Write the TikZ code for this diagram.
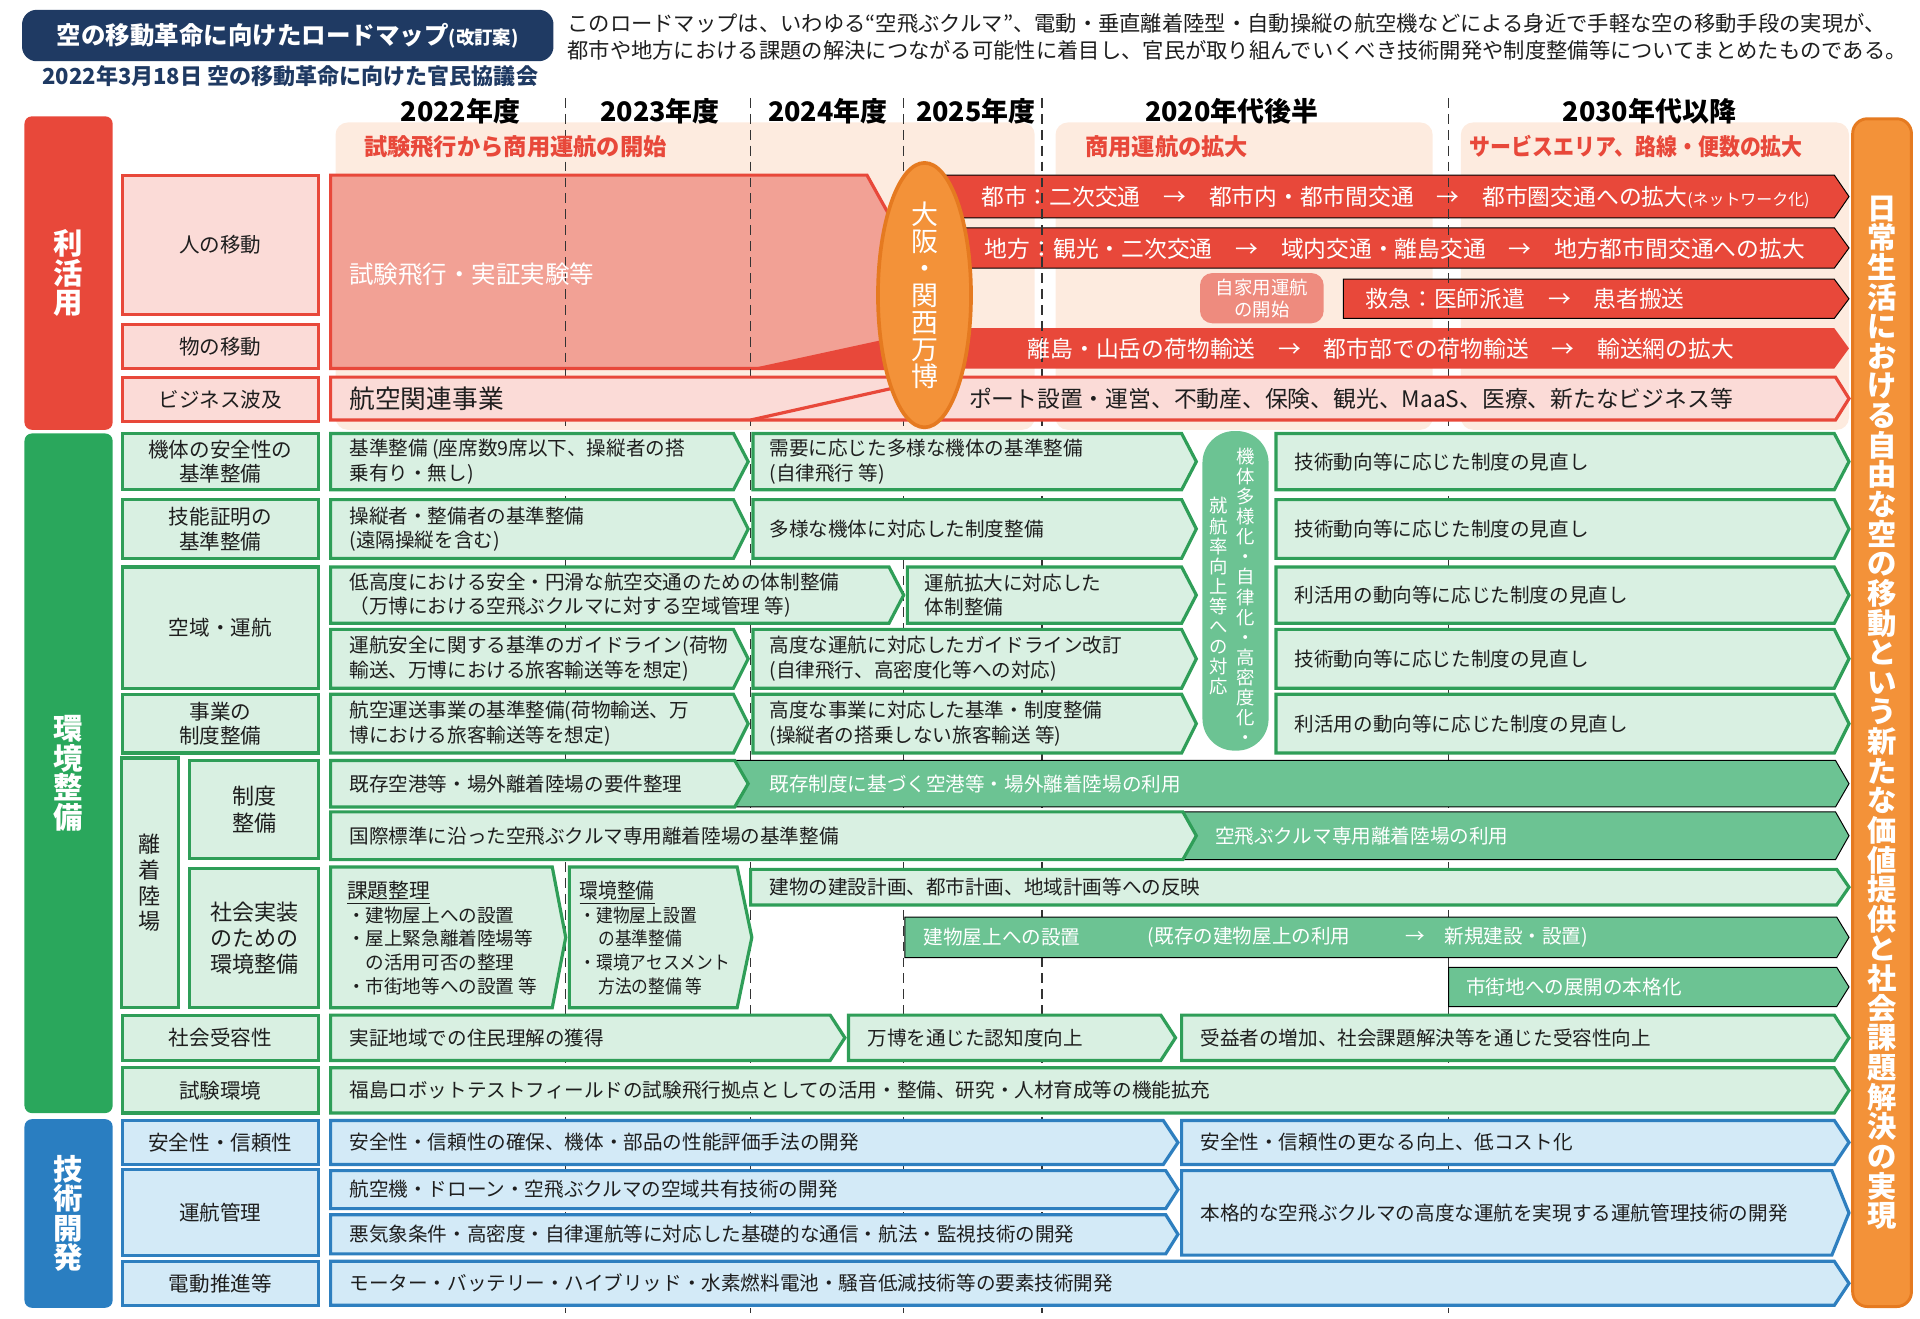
\documentclass[tikz,border=0pt]{standalone}
\usepackage{fontspec}
\setmainfont{Noto Sans CJK JP}
\newfontfamily\condfont[FakeStretch=0.9]{Noto Sans CJK JP}
\usetikzlibrary{shapes.geometric}
\definecolor{rred}{HTML}{E8483A}
\definecolor{rpink}{HTML}{FBDBD7}
\definecolor{salmon}{HTML}{F2A195}
\definecolor{peach}{HTML}{FDEBDF}
\definecolor{jika}{HTML}{EE8B7E}
\definecolor{gsec}{HTML}{2AA75C}
\definecolor{gdark}{HTML}{2F9E58}
\definecolor{glight}{HTML}{D9F0E2}
\definecolor{gmidc}{HTML}{6CC393}
\definecolor{bsec}{HTML}{2A7EC1}
\definecolor{bdark}{HTML}{2E7FBF}
\definecolor{blight}{HTML}{D3EAF7}
\definecolor{orng}{HTML}{F39239}
\definecolor{odark}{HTML}{E57A20}
\definecolor{navy}{HTML}{1F3A63}
\definecolor{ink}{HTML}{1E1E1E}
\definecolor{dashc}{HTML}{333333}
\newcommand{\chevron}[6][]{%
  \draw[#1] (#2,#3) -- ({#4-#6},#3) -- (#4,{(#3+#5)/2}) -- ({#4-#6},#5) -- (#2,#5) -- cycle;}

\begin{document}
\begin{tikzpicture}[x=0.5pt, y=-0.5pt,
    txt/.style={inner sep=0pt, anchor=west, align=left, text=ink, font=\fontsize{8}{10}\selectfont},
    wtxt/.style={txt, text=white},
    rtxt/.style={txt, text=white, font=\fontsize{9.3}{11}\selectfont},
    year/.style={inner sep=0pt, text=black, font=\fontsize{11}{12}\selectfont\bfseries},
    phase/.style={inner sep=0pt, anchor=west, text=rred, font=\fontsize{9.5}{11}\selectfont\bfseries},
    catlabel/.style={draw, line width=1.3pt, inner sep=0pt, align=center, minimum width=80pt, text=ink, font=\fontsize{8.4}{10}\selectfont},
    catred/.style={catlabel, draw=rred, fill=rpink},
    catgreen/.style={catlabel, draw=gdark, fill=glight},
    catblue/.style={catlabel, draw=bdark, fill=blight},
    sectionbar/.style={inner sep=0pt, rounded corners=3pt, minimum width=36pt, align=center, text=white, font=\fontsize{12}{12}\selectfont\bfseries},
    vtxt/.style={inner sep=0pt, align=center, text=white, font=\fontsize{7.5}{8.2}\selectfont},
    gbox/.style={draw=gdark, fill=glight, line width=1.3pt},
    gbar/.style={fill=gmidc},
    bbox/.style={draw=bdark, fill=blight, line width=1.3pt},
    rbar/.style={fill=rred},
    yeardash/.style={draw=dashc, line width=0.6pt, dash pattern=on 4pt off 2.5pt},
    phasebg/.style={fill=peach, rounded corners=5pt}
  ]
            \useasboundingbox (0,0) rectangle (1568,1077);

            \node[fill=navy, rounded corners=6pt, minimum width=217pt, minimum height=21pt, inner sep=0pt, text=white, font=\fontsize{10}{12}\selectfont\bfseries] (title) at (235,29) {空の移動革命に向けたロードマップ{\fontsize{7.5}{9}\selectfont(改訂案)}};
            \node[inner sep=0pt, text=navy, font=\fontsize{9}{11}\selectfont\bfseries] (date) at (237,62) {2022年3月18日 空の移動革命に向けた官民協議会};
            \node[txt, font=\fontsize{8.7}{10.8}\selectfont] (intro) at (463,30) {このロードマップは、いわゆる“空飛ぶクルマ”、電動・垂直離着陸型・自動操縦の航空機などによる身近で手軽な空の移動手段の実現が、\\都市や地方における課題の解決につながる可能性に着目し、官民が取り組んでいくべき技術開発や制度整備等についてまとめたものである。};

            \fill[phasebg] (274,100) rectangle (845,351);
            \fill[phasebg] (862,100) rectangle (1170,351);
            \fill[phasebg] (1193,100) rectangle (1510,351);

            \draw[fill=salmon, draw=rred, line width=1.3pt] (270,143) -- (708,143) -- (752,222) -- (752,301) -- (270,301) -- cycle;
            \fill[rbar] (613,301) -- (765,268) -- (1498,268) -- (1510,284.5) -- (1498,301) -- cycle;
            \chevron[rbar]{750}{143}{1510}{178}{12}
            \chevron[rbar]{750}{186}{1510}{219}{12}
            \chevron[rbar]{1097}{228}{1510}{260}{12}
            \node[fill=jika, rounded corners=5pt, minimum width=50.5pt, minimum height=20.5pt, inner sep=0pt, align=center, text=white, font=\fontsize{7.5}{9}\selectfont] (jikayo) at (1030.5,243.5) {自家用運航\\の開始};

            \foreach \x in {462,613,738,851,1183}
                \draw[yeardash] (\x,80) -- (\x,1072);

            \chevron[fill=rpink, draw=rred, line width=1.3pt]{270}{308}{1510}{343}{11}
            \draw[rred, line width=1.3pt] (613,343) -- (765,309);
            \node[ellipse, fill=orng, draw=odark, line width=1.5pt, minimum width=38pt, minimum height=108pt, inner sep=0pt, align=center, text=white, font=\fontsize{11}{11}\selectfont] (expo) at (755,241) {大\\阪\\・\\関\\西\\万\\博};

            \node[year] (y22) at (376,91) {2022年度};
            \node[year] (y23) at (539,91) {2023年度};
            \node[year] (y24) at (676,91) {2024年度};
            \node[year] (y25) at (797,91) {2025年度};
            \node[year] (y2x) at (1006,91) {2020年代後半};
            \node[year] (y30) at (1347,91) {2030年代以降};
            \node[phase] (p1) at (297,120) {試験飛行から商用運航の開始};
            \node[phase] (p2) at (886,120) {商用運航の拡大};
            \node[phase, font=\condfont\fontsize{9.5}{11}\selectfont\bfseries] (p3) at (1200,120) {サービスエリア、路線・便数の拡大};

            \node[sectionbar, fill=rred, minimum height=128pt] (riyo) at (56,223) {利\\活\\用};
            \node[sectionbar, fill=gsec, minimum height=277.5pt] (kankyo) at (56,631.5) {環\\境\\整\\備};
            \node[sectionbar, fill=bsec, minimum height=77pt] (gijutsu) at (56,991) {技\\術\\開\\発};
            \node[fill=orng, draw=odark, line width=1.2pt, rounded corners=6pt, minimum width=24pt, minimum height=485pt, inner sep=0pt, align=center, text=white, font=\fontsize{12}{12.1}\selectfont\bfseries] (goal) at (1537,582) {日\\常\\生\\活\\に\\お\\け\\る\\自\\由\\な\\空\\の\\移\\動\\と\\い\\う\\新\\た\\な\\価\\値\\提\\供\\と\\社\\会\\課\\題\\解\\決\\の\\実\\現};

            \node[catred, minimum height=57pt] (hito) at (180,200) {人の移動};
            \node[catred, minimum height=18pt] (mono) at (180,283) {物の移動};
            \node[catred, minimum height=18pt] (biz) at (180,326) {ビジネス波及};
            \node[catgreen, minimum height=23pt] (kitai) at (180,377) {機体の安全性の\\基準整備};
            \node[catgreen, minimum height=24pt] (ginou) at (180,432) {技能証明の\\基準整備};
            \node[catgreen, minimum height=49.5pt] (kuiki) at (180,512.5) {空域・運航};
            \node[catgreen, minimum height=24pt] (jigyo) at (180,591) {事業の\\制度整備};
            \node[catgreen, minimum width=23.5pt, minimum height=102pt, font=\fontsize{9}{10.5}\selectfont] (richaku) at (122.5,721) {離\\着\\陸\\場};
            \node[catgreen, minimum width=52.5pt, minimum height=40pt, font=\fontsize{9}{11}\selectfont] (seido) at (207.5,661) {制度\\整備};
            \node[catgreen, minimum width=52.5pt, minimum height=57pt, font=\fontsize{9}{10.5}\selectfont] (shakai) at (207.5,766) {社会実装\\のための\\環境整備};
            \node[catgreen, minimum height=18.5pt] (juyo) at (180,847.5) {社会受容性};
            \node[catgreen, minimum height=18.5pt] (shiken) at (180,890.5) {試験環境};
            \node[catblue, minimum height=18pt] (anzen) at (180,933) {安全性・信頼性};
            \node[catblue, minimum height=35pt] (unko) at (180,990) {運航管理};
            \node[catblue, minimum height=18pt] (dendo) at (180,1048) {電動推進等};

            \chevron[gbox]{270}{354}{611}{400}{12}
            \chevron[gbox]{615}{354}{977}{400}{12}
            \chevron[gbox]{1042}{354}{1510}{400}{12}
            \chevron[gbox]{270}{408}{611}{456}{12}
            \chevron[gbox]{615}{408}{977}{456}{12}
            \chevron[gbox]{1042}{408}{1510}{456}{12}
            \chevron[gbox]{270}{463}{738}{509}{12}
            \chevron[gbox]{741}{463}{977}{509}{12}
            \chevron[gbox]{1042}{463}{1510}{509}{12}
            \chevron[gbox]{270}{514}{611}{562}{12}
            \chevron[gbox]{615}{514}{977}{562}{12}
            \chevron[gbox]{1042}{514}{1510}{562}{12}
            \chevron[gbox]{270}{567}{611}{615}{12}
            \chevron[gbox]{615}{567}{977}{615}{12}
            \chevron[gbox]{1042}{567}{1510}{615}{12}
            \node[fill=gmidc, rounded corners=13pt, minimum width=27pt, minimum height=130.5pt, inner sep=0pt] (taio) at (1009,482.5) {};
            \node[vtxt] (taioR) at (1017,487) {機\\体\\多\\様\\化\\・\\自\\律\\化\\・\\高\\密\\度\\化\\・};
            \node[vtxt] (taioL) at (995,487) {就\\航\\率\\向\\上\\等\\へ\\の\\対\\応};

            \chevron[gbar]{600}{621}{1510}{659}{11}
            \chevron[gbox]{270}{621}{611}{659}{11}
            \chevron[gbar]{965}{663}{1510}{702}{11}
            \chevron[gbox]{270}{663}{977}{702}{11}
            \chevron[gbox]{270}{708}{462}{823}{11}
            \chevron[gbox]{465}{708}{614}{823}{12}
            \chevron[gbox]{613}{710}{1510}{739}{10}
            \chevron[gbar]{739}{749}{1510}{782}{10}
            \chevron[gbar]{1183}{790}{1510}{822}{10}
            \chevron[gbox]{270}{829}{690}{866}{12}
            \chevron[gbox]{693}{829}{960}{866}{12}
            \chevron[gbox]{965}{829}{1510}{866}{12}
            \chevron[gbox]{270}{872}{1510}{909}{12}

            \chevron[bbox]{270}{915}{962}{951}{12}
            \chevron[bbox]{965}{915}{1510}{951}{12}
            \chevron[bbox]{270}{956}{962}{987}{10}
            \chevron[bbox]{270}{992}{962}{1024}{10}
            \chevron[bbox]{965}{956}{1510}{1025}{14}
            \chevron[bbox]{270}{1030}{1510}{1066}{12}

            \node[txt, text=white, font=\fontsize{10}{12}\selectfont] (trial) at (285,224) {試験飛行・実証実験等};
            \node[rtxt] (toshi) at (801,161) {都市：二次交通　→　都市内・都市間交通　→　都市圏交通への拡大{\fontsize{6.5}{8}\selectfont(ネットワーク化)}};
            \node[rtxt] (chiho) at (804,203) {地方：観光・二次交通　→　域内交通・離島交通　→　地方都市間交通への拡大};
            \node[rtxt] (kyukyu) at (1115,244) {救急：医師派遣　→　患者搬送};
            \node[rtxt] (butsu) at (839,285) {離島・山岳の荷物輸送　→　都市部での荷物輸送　→　輸送網の拡大};
            \node[txt, font=\fontsize{10.5}{12}\selectfont] (koku) at (285,326) {航空関連事業};
            \node[txt, font=\fontsize{9.3}{11}\selectfont] (port) at (791,326) {ポート設置・運営、不動産、保険、観光、MaaS、医療、新たなビジネス等};

            \node[txt] (a1) at (285,377) {基準整備 (座席数9席以下、操縦者の搭\\乗有り・無し)};
            \node[txt] (a2) at (628,377) {需要に応じた多様な機体の基準整備\\(自律飛行 等)};
            \node[txt] (a3) at (1057,377) {技術動向等に応じた制度の見直し};
            \node[txt] (b1) at (285,432) {操縦者・整備者の基準整備\\(遠隔操縦を含む)};
            \node[txt] (b2) at (628,432) {多様な機体に対応した制度整備};
            \node[txt] (b3) at (1057,432) {技術動向等に応じた制度の見直し};
            \node[txt] (c1) at (285,486) {低高度における安全・円滑な航空交通のための体制整備\\（万博における空飛ぶクルマに対する空域管理 等)};
            \node[txt] (c2) at (755,486) {運航拡大に対応した\\体制整備};
            \node[txt] (c3) at (1057,486) {利活用の動向等に応じた制度の見直し};
            \node[txt] (d1) at (285,538) {運航安全に関する基準のガイドライン(荷物\\輸送、万博における旅客輸送等を想定)};
            \node[txt] (d2) at (628,538) {高度な運航に対応したガイドライン改訂\\(自律飛行、高密度化等への対応)};
            \node[txt] (d3) at (1057,538) {技術動向等に応じた制度の見直し};
            \node[txt] (e1) at (285,591) {航空運送事業の基準整備(荷物輸送、万\\博における旅客輸送等を想定)};
            \node[txt] (e2) at (628,591) {高度な事業に対応した基準・制度整備\\(操縦者の搭乗しない旅客輸送 等)};
            \node[txt] (e3) at (1057,591) {利活用の動向等に応じた制度の見直し};
            \node[txt] (f1) at (285,640) {既存空港等・場外離着陸場の要件整理};
            \node[wtxt] (f2) at (628,640) {既存制度に基づく空港等・場外離着陸場の利用};
            \node[txt] (g1) at (285,683) {国際標準に沿った空飛ぶクルマ専用離着陸場の基準整備};
            \node[wtxt] (g2) at (992,683) {空飛ぶクルマ専用離着陸場の利用};
            \node[txt, font=\fontsize{7.6}{9.75}\selectfont] (kadai) at (283,766) {{\fontsize{8.5}{9.75}\selectfont\underline{課題整理}}\\・建物屋上への設置\\・屋上緊急離着陸場等\\\hspace*{1em}の活用可否の整理\\・市街地等への設置 等};
            \node[txt, font=\condfont\fontsize{7.6}{9.75}\selectfont] (seibi) at (473,766) {{\fontsize{8.5}{9.75}\selectfont\underline{環境整備}}\\・建物屋上設置\\\hspace*{1em}の基準整備\\・環境アセスメント\\\hspace*{1em}方法の整備 等};
            \node[txt] (h1) at (628,724.5) {建物の建設計画、都市計画、地域計画等への反映};
            \node[wtxt] (h2) at (754,765.5) {建物屋上への設置};
            \node[wtxt] (h3) at (937,765.5) {(既存の建物屋上の利用\hspace{2.8em}→\hspace{1em}新規建設・設置)};
            \node[wtxt] (h4) at (1197,806) {市街地への展開の本格化};
            \node[txt] (i1) at (285,848) {実証地域での住民理解の獲得};
            \node[txt] (i2) at (708,848) {万博を通じた認知度向上};
            \node[txt] (i3) at (980,848) {受益者の増加、社会課題解決等を通じた受容性向上};
            \node[txt] (j1) at (285,890.5) {福島ロボットテストフィールドの試験飛行拠点としての活用・整備、研究・人材育成等の機能拡充};
            \node[txt] (k1) at (285,933) {安全性・信頼性の確保、機体・部品の性能評価手法の開発};
            \node[txt] (k2) at (980,933) {安全性・信頼性の更なる向上、低コスト化};
            \node[txt] (l1) at (285,971.5) {航空機・ドローン・空飛ぶクルマの空域共有技術の開発};
            \node[txt] (l2) at (285,1008) {悪気象条件・高密度・自律運航等に対応した基礎的な通信・航法・監視技術の開発};
            \node[txt] (l3) at (980,990.5) {本格的な空飛ぶクルマの高度な運航を実現する運航管理技術の開発};
            \node[txt] (m1) at (285,1048) {モーター・バッテリー・ハイブリッド・水素燃料電池・騒音低減技術等の要素技術開発};
\end{tikzpicture}
\end{document}
